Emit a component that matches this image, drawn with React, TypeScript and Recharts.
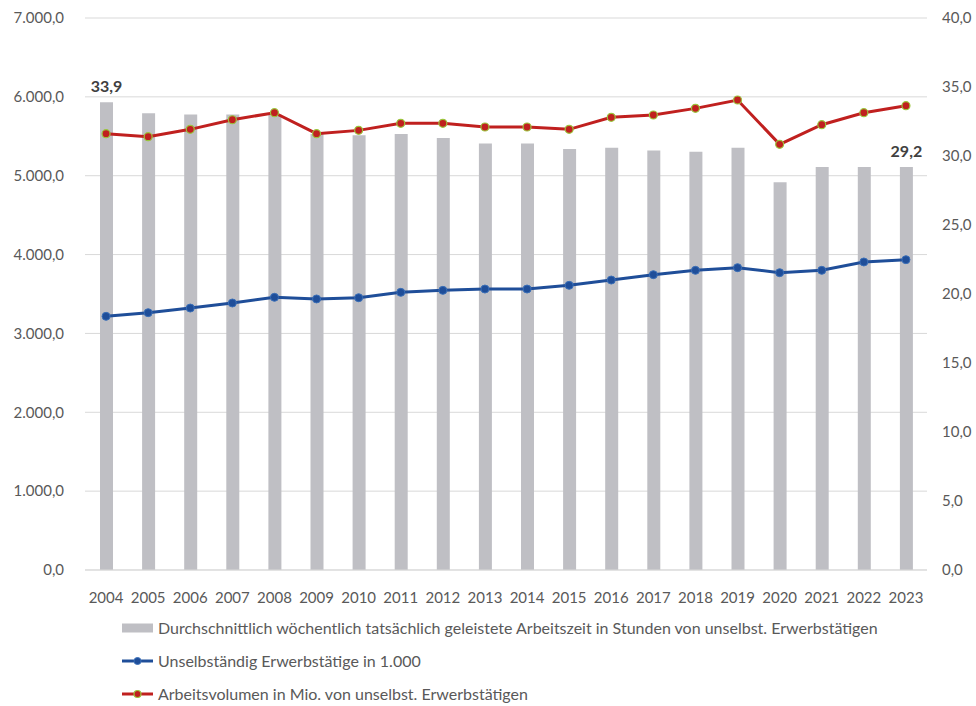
import { ComposedChart, Bar, Line, XAxis, YAxis, CartesianGrid, LabelList } from 'recharts';

const years = ['2004', '2005', '2006', '2007', '2008', '2009', '2010', '2011', '2012', '2013', '2014', '2015', '2016', '2017', '2018', '2019', '2020', '2021', '2022', '2023'];
const arbeitszeit = [33.9, 33.1, 33.0, 33.0, 33.0, 31.6, 31.5, 31.6, 31.3, 30.9, 30.9, 30.5, 30.6, 30.4, 30.3, 30.6, 28.1, 29.2, 29.2, 29.2];
const erwerbstaetige = [3217, 3263, 3322, 3386, 3458, 3437, 3453, 3521, 3546, 3563, 3563, 3610, 3677, 3745, 3800, 3834, 3770, 3800, 3906, 3935];
const arbeitsvolumen = [5533, 5495, 5588, 5710, 5799, 5533, 5575, 5664, 5664, 5618, 5618, 5588, 5740, 5770, 5854, 5960, 5398, 5647, 5799, 5888];
const leftTicks = [0, 1000, 2000, 3000, 4000, 5000, 6000, 7000];
const rightTicks = [0, 5, 10, 15, 20, 25, 30, 35, 40];

const labelBar = 'Durchschnittlich wöchentlich tatsächlich geleistete Arbeitszeit in Stunden von unselbst. Erwerbstätigen';
const labelBlue = 'Unselbständig Erwerbstätige in 1.000';
const labelRed = 'Arbeitsvolumen in Mio. von unselbst. Erwerbstätigen';

const data = years.map((y, i) => ({
  year: y,
  zeit: arbeitszeit[i],
  erw: erwerbstaetige[i],
  vol: arbeitsvolumen[i],
}));

const FONT = 'Lato, "Liberation Sans", sans-serif';
const TEXT = '#595959';

function fmtThousands(v: number) {
  const s = Math.round(v).toString().replace(/\B(?=(\d{3})+(?!\d))/g, '.');
  return s + ',0';
}
const fmtOne = (v: number) => v.toFixed(1).replace('.', ',');

function EndLabel(props: any) {
  const { x, y, width, value, index } = props;
  if (index !== 0 && index !== years.length - 1) return null;
  return (
    <text x={x + width / 2} y={y - 10} textAnchor="middle" fill="#404040" fontWeight="bold" fontSize={16} fontFamily={FONT}>
      {fmtOne(value)}
    </text>
  );
}

function LegendBox() {
  const row = { display: 'flex', alignItems: 'center', height: 33 } as const;
  const text = { marginLeft: 5, fontSize: 16, color: TEXT, fontFamily: FONT, whiteSpace: 'nowrap' } as const;
  return (
    <div style={{ position: 'absolute', left: 122, top: 611 }}>
      <div style={row}>
        <svg width={31} height={12}><rect x={0} y={1.5} width={31} height={9} fill="#bfbfc4" /></svg>
        <span style={text}>{labelBar}</span>
      </div>
      <div style={row}>
        <svg width={31} height={12}>
          <line x1={0} y1={6} x2={31} y2={6} stroke="#1f4e99" strokeWidth={3} />
          <circle cx={15.5} cy={6} r={3.5} fill="#1f4e99" stroke="#3a6fb8" strokeWidth={1} />
        </svg>
        <span style={text}>{labelBlue}</span>
      </div>
      <div style={row}>
        <svg width={31} height={12}>
          <line x1={0} y1={6} x2={31} y2={6} stroke="#c0201f" strokeWidth={3} />
          <circle cx={15.5} cy={6} r={3.5} fill="#c0201f" stroke="#9bc53d" strokeWidth={1.2} />
        </svg>
        <span style={text}>{labelRed}</span>
      </div>
    </div>
  );
}

export default function App() {
  return (
    <div style={{ position: 'absolute', left: 0, top: 0, width: 976, height: 706, background: '#fff' }}>
      <ComposedChart width={976} height={706} data={data} margin={{ top: 18, right: 0, bottom: 106, left: 0 }}>
        <CartesianGrid yAxisId="left" vertical={false} stroke="#d9d9d9" />
        <XAxis
          dataKey="year"
          tickLine={false}
          axisLine={{ stroke: '#d9d9d9' }}
          tickMargin={16}
          height={30}
          interval={0}
          tick={{ fill: TEXT, fontSize: 15, fontFamily: FONT }}
        />
        <YAxis
          yAxisId="left"
          width={85}
          domain={[0, 7000]}
          ticks={leftTicks}
          axisLine={false}
          tickLine={false}
          tickSize={0}
          tickMargin={21}
          tickFormatter={fmtThousands}
          tick={{ fill: TEXT, fontSize: 15, fontFamily: FONT }}
        />
        <YAxis
          yAxisId="right"
          orientation="right"
          width={49}
          domain={[0, 40]}
          ticks={rightTicks}
          axisLine={false}
          tickLine={false}
          tickSize={0}
          tickMargin={15}
          tickFormatter={fmtOne}
          tick={{ fill: TEXT, fontSize: 15, fontFamily: FONT, textAnchor: 'start' }}
        />
        <Bar yAxisId="right" dataKey="zeit" name={labelBar} fill="#bfbfc4" barSize={13} isAnimationActive={false}>
          <LabelList dataKey="zeit" content={EndLabel} />
        </Bar>
        <Line
          yAxisId="left"
          dataKey="erw"
          name={labelBlue}
          stroke="#1f4e99"
          strokeWidth={3}
          dot={{ r: 4, fill: '#1f4e99', stroke: '#3a6fb8', strokeWidth: 1 }}
          isAnimationActive={false}
        />
        <Line
          yAxisId="left"
          dataKey="vol"
          name={labelRed}
          stroke="#c0201f"
          strokeWidth={3}
          dot={{ r: 4, fill: '#c0201f', stroke: '#9bc53d', strokeWidth: 1.2 }}
          isAnimationActive={false}
        />
      </ComposedChart>
      <LegendBox />
    </div>
  );
}
